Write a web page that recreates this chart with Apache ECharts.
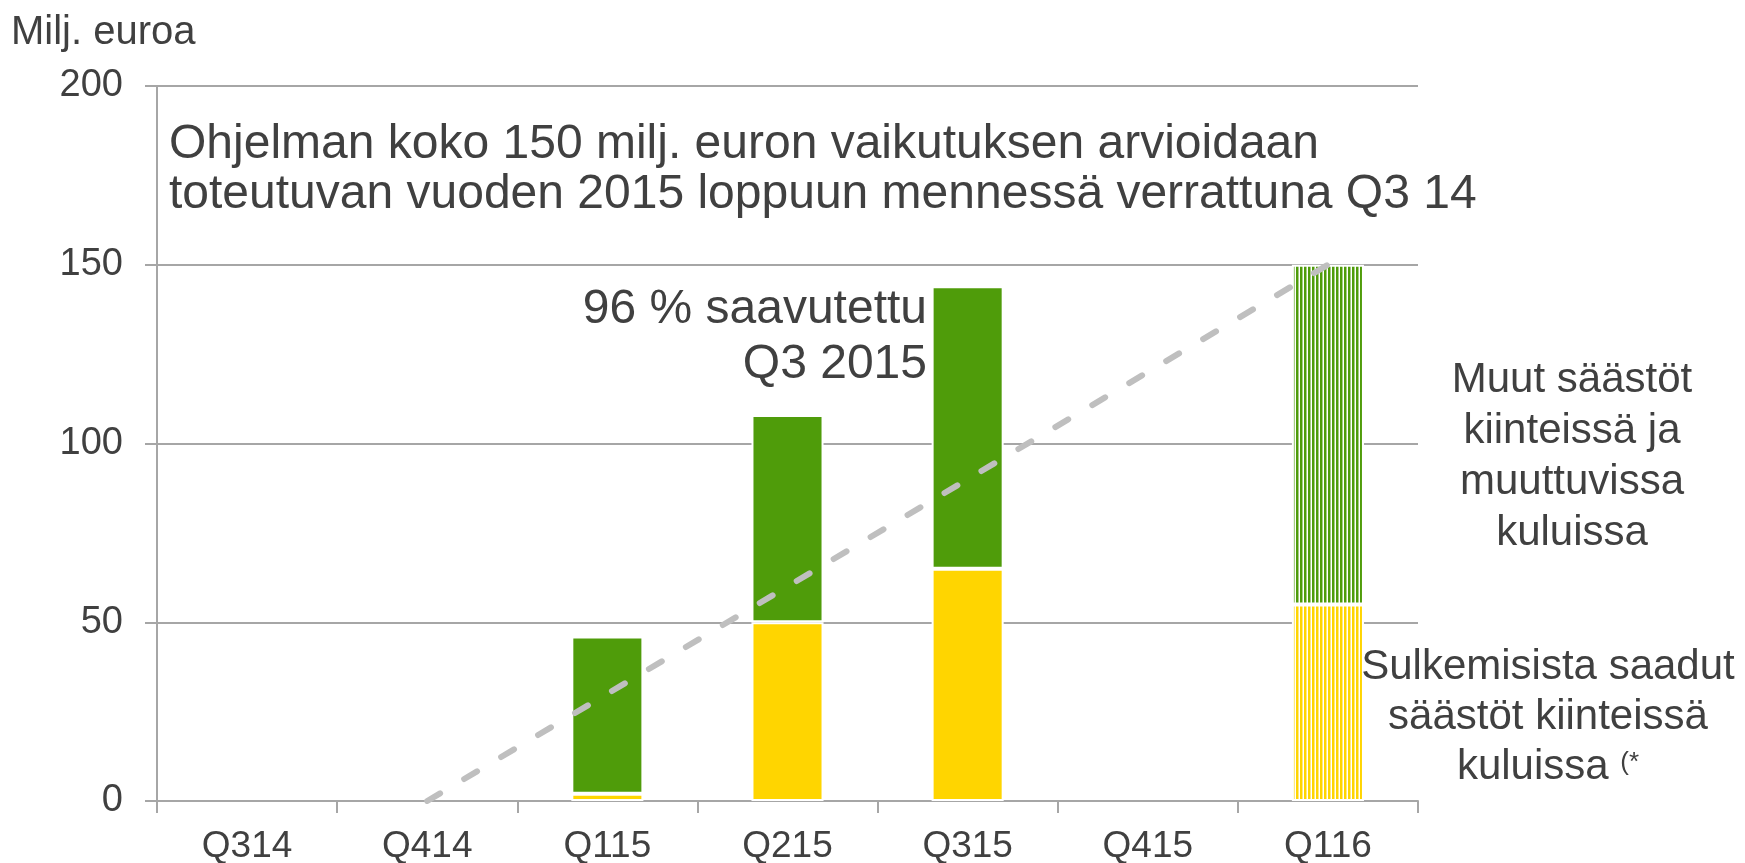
<!DOCTYPE html>
<html>
<head>
<meta charset="utf-8">
<title>Säästöohjelma</title>
<script src="https://cdn.jsdelivr.net/npm/echarts@6/dist/echarts.min.js"></script>
<style>
  html, body { margin: 0; padding: 0; background: #fff; }
  #chart { width: 1745px; height: 863px; }
</style>
</head>
<body>
<div id="chart"></div>
<script>
// kvartaalit
const quarters = ['Q314', 'Q414', 'Q115', 'Q215', 'Q315', 'Q415', 'Q116']
// sulkemisista saadut säästöt (milj. euroa)
const closureSavings = [null, null, 2, 50, 65, null, 55]
// muut säästöt
const otherSavings = [null, null, 44, 58, 79, null, 95]
// tavoiteura
const targetPath = [null, 0, 30, 60, 90, 120, 150]
// ennuste (viivoitettu pylväs)
const isForecast = [false, false, false, false, false, false, true]
const yTicks = [0, 50, 100, 150, 200]

const GREEN = '#4F9C0A'
const YELLOW = '#FFD500'
const TEXT = '#404040'
const GRID = '#A6A6A6'
const FONT = '"Liberation Sans", Arial, sans-serif'

// pystyraidat ennustepylvääseen
function stripes(color) {
    const c = document.createElement('canvas')
    c.width = 4
    c.height = 4
    const ctx = c.getContext('2d')
    ctx.fillStyle = '#fff'
    ctx.fillRect(0, 0, 4, 4)
    ctx.fillStyle = color
    ctx.fillRect(0, 0, 2.5, 4)
    return { image: c, repeat: 'repeat' }
}

function barData(values, color) {
    return values.map((v, i) => {
        if (v == null) return '-'
        if (isForecast[i]) return { value: v, itemStyle: { color: stripes(color) } }
        return v
    })
}

const chart = echarts.init(document.getElementById('chart'))

const option = {
    animation: false,
    grid: { left: 157, right: 327, top: 86, bottom: 62, outerBoundsMode: 'none', containLabel: false },
    xAxis: {
        type: 'category',
        data: quarters,
        axisLine: { lineStyle: { color: GRID, width: 2 } },
        axisTick: { show: true, length: 12, lineStyle: { color: GRID, width: 2 } },
        axisLabel: { color: TEXT, fontSize: 37, fontFamily: FONT, margin: 27 }
    },
    yAxis: {
        type: 'value',
        min: yTicks[0],
        max: yTicks[yTicks.length - 1],
        interval: 50,
        axisLine: { show: true, lineStyle: { color: GRID, width: 2 } },
        axisTick: { show: true, length: 12, lineStyle: { color: GRID, width: 2 } },
        axisLabel: { color: TEXT, fontSize: 38, fontFamily: FONT, margin: 34 },
        splitLine: { lineStyle: { color: GRID, width: 2 } }
    },
    series: [
        {
            name: 'Sulkemisista saadut säästöt',
            type: 'bar',
            stack: 'saastot',
            barWidth: '40%',
            data: barData(closureSavings, YELLOW),
            itemStyle: { color: YELLOW, borderColor: '#fff', borderWidth: 2 },
            z: 2
        },
        {
            name: 'Muut säästöt',
            type: 'bar',
            stack: 'saastot',
            barWidth: '40%',
            data: barData(otherSavings, GREEN),
            itemStyle: { color: GREEN, borderColor: '#fff', borderWidth: 2 },
            z: 2
        },
        {
            name: 'Tavoite',
            type: 'line',
            data: targetPath,
            symbol: 'none',
            lineStyle: { color: '#BFBFBF', width: 6, type: [15, 28], cap: 'round' },
            z: 5
        }
    ],
    graphic: [
        {
            type: 'text', x: 11, y: 33,
            style: { text: 'Milj. euroa', font: '40px ' + FONT, fill: TEXT, verticalAlign: 'middle' }
        },
        {
            type: 'text', x: 169, y: 170, z: 10,
            style: {
                text: 'Ohjelman koko 150 milj. euron vaikutuksen arvioidaan\ntoteutuvan vuoden 2015 loppuun mennessä verrattuna Q3 14',
                font: '48px ' + FONT, fill: TEXT, lineHeight: 50, verticalAlign: 'middle'
            }
        },
        {
            type: 'text', x: 927, y: 337, z: 10,
            style: {
                text: '96 % saavutettu\nQ3 2015',
                font: '48px ' + FONT, fill: TEXT, lineHeight: 55, align: 'right', verticalAlign: 'middle'
            }
        },
        {
            type: 'text', x: 1572, y: 457, z: 10,
            style: {
                text: 'Muut säästöt\nkiinteissä ja\nmuuttuvissa\nkuluissa',
                font: '42px ' + FONT, fill: TEXT, lineHeight: 51, align: 'center', verticalAlign: 'middle'
            }
        },
        {
            type: 'text', x: 1548, y: 717, z: 10,
            style: {
                text: 'Sulkemisista saadut\nsäästöt kiinteissä\nkuluissa {sup|(*}',
                font: '42px ' + FONT, fill: TEXT, lineHeight: 50, align: 'center', verticalAlign: 'middle',
                rich: {
                    sup: { fontSize: 26, fontFamily: FONT, fill: TEXT, verticalAlign: 'top', lineHeight: 40, padding: [8, 0, 0, 0] }
                }
            }
        }
    ]
}

chart.setOption(option)
</script>
</body>
</html>
